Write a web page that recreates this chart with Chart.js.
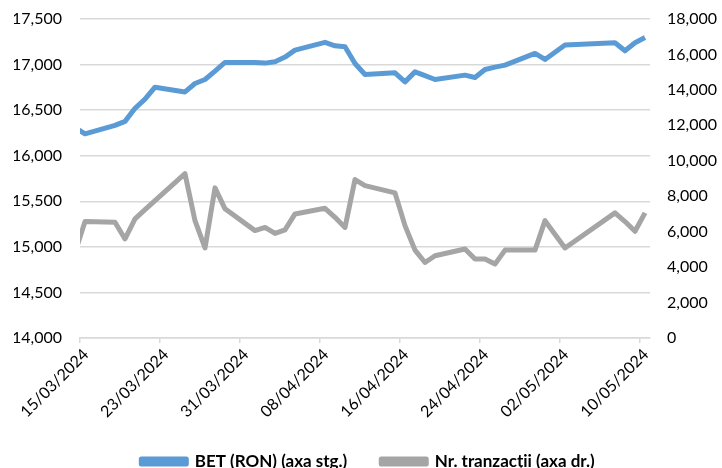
<!DOCTYPE html>
<html>
<head>
<meta charset="utf-8">
<script src="https://cdn.jsdelivr.net/npm/chart.js@4.4.1/dist/chart.umd.min.js"></script>
<style>
  html, body { margin: 0; padding: 0; background: #fff; }
  #wrap { width: 722px; height: 468px; }
</style>
</head>
<body>
<div id="wrap"><canvas id="chart_bet" width="722" height="468"></canvas></div>
<script>
// trading days (the first one sits just left of the visible axis start)
var dates = ['14/03/2024','15/03/2024','18/03/2024','19/03/2024','20/03/2024','21/03/2024','22/03/2024',
  '25/03/2024','26/03/2024','27/03/2024','28/03/2024','29/03/2024',
  '01/04/2024','02/04/2024','03/04/2024','04/04/2024','05/04/2024',
  '08/04/2024','09/04/2024','10/04/2024','11/04/2024','12/04/2024',
  '15/04/2024','16/04/2024','17/04/2024','18/04/2024','19/04/2024',
  '22/04/2024','23/04/2024','24/04/2024','25/04/2024','26/04/2024',
  '29/04/2024','30/04/2024','02/05/2024',
  '07/05/2024','08/05/2024','09/05/2024','10/05/2024'];

var betValues = [16307,16240,16333,16377,16520,16620,16752,
  16700,16792,16836,16928,17023,
  17023,17016,17032,17082,17159,
  17244,17206,17195,17012,16891,
  16909,16810,16920,16878,16836,
  16884,16858,16946,16972,16994,
  17122,17056,17214,
  17239,17151,17239,17296];

var tradeValues = [4810,6570,6530,5590,6720,7240,7750,
  9270,6620,5080,8470,7290,
  6060,6240,5900,6100,7000,
  7320,6810,6240,8940,8600,
  8190,6340,4960,4260,4640,
  5020,4460,4460,4170,4960,
  4960,6620,5080,
  7060,6570,6020,7060];

var tickLabels = ['15/03/2024','23/03/2024','31/03/2024','08/04/2024','16/04/2024','24/04/2024','02/05/2024','10/05/2024'];

var seriesNames = ['BET (RON) (axa stg.)', 'Nr. tranzacții (axa dr.)'];

var startDay = Date.UTC(2024, 2, 15);
function dayOf(s) {
  var p = s.split('/');
  return (Date.UTC(+p[2], +p[1] - 1, +p[0]) - startDay) / 86400000;
}
// each day occupies one unit, the point sits in the middle of it
function toPoints(values) {
  return values.map(function (v, i) { return { x: dayOf(dates[i]) + 0.5, y: v }; });
}

var fontFamily = "Lato, 'Open Sans', sans-serif";
var gridColor = '#d9d9d9';
var textColor = '#000';

var ctx = document.getElementById('chart_bet').getContext('2d');
new Chart(ctx, {
  type: 'line',
  data: {
    datasets: [
      {
        label: seriesNames[0],
        data: toPoints(betValues),
        yAxisID: 'yLeft',
        borderColor: '#5b9bd5',
        backgroundColor: '#5b9bd5',
        borderWidth: 5,
        borderJoinStyle: 'round',
        pointRadius: 0,
        tension: 0
      },
      {
        label: seriesNames[1],
        data: toPoints(tradeValues),
        yAxisID: 'yRight',
        borderColor: '#a5a5a5',
        backgroundColor: '#a5a5a5',
        borderWidth: 5,
        borderJoinStyle: 'round',
        pointRadius: 0,
        tension: 0
      }
    ]
  },
  options: {
    responsive: false,
    animation: false,
    layout: { padding: { top: 19, bottom: -12, left: 14, right: 0 } },
    plugins: {
      tooltip: { enabled: false },
      legend: {
        position: 'bottom',
        labels: {
          boxWidth: 45,
          boxHeight: 5,
          padding: 34,
          color: textColor,
          font: { family: fontFamily, size: 17, weight: 'bold' }
        }
      }
    },
    scales: {
      x: {
        type: 'linear',
        min: 0,
        max: dayOf(dates[dates.length - 1]) + 1,
        afterBuildTicks: function (scale) {
          scale.ticks = tickLabels.map(function (l) { return { value: dayOf(l) }; });
        },
        afterFit: function (scale) { scale.height = 81; },
        grid: { drawOnChartArea: false, color: gridColor, tickLength: 5, lineWidth: 1.5 },
        border: { display: true, color: gridColor, width: 1.5 },
        ticks: {
          minRotation: 45,
          maxRotation: 45,
          autoSkip: false,
          labelOffset: 6,
          padding: 2,
          color: textColor,
          font: { family: fontFamily, size: 16 },
          callback: function (value, i) { return tickLabels[i]; }
        }
      },
      yLeft: {
        position: 'left',
        min: 14000,
        max: 17500,
        afterFit: function (scale) { scale.width = 66; },
        // invisible ticks keep the labels away from the plot without padding the top
        grid: { color: gridColor, lineWidth: 1.5, drawTicks: true, tickLength: 18, tickColor: 'rgba(0,0,0,0)' },
        border: { display: false },
        ticks: {
          stepSize: 500,
          padding: 0,
          color: textColor,
          font: { family: fontFamily, size: 16 },
          callback: function (v) { return v.toLocaleString('en-US'); }
        }
      },
      yRight: {
        position: 'right',
        min: 0,
        max: 18000,
        afterFit: function (scale) { scale.width = 72; },
        grid: { drawOnChartArea: false, drawTicks: true, tickLength: 17, tickColor: 'rgba(0,0,0,0)' },
        border: { display: false },
        ticks: {
          stepSize: 2000,
          padding: 0,
          color: textColor,
          font: { family: fontFamily, size: 16 },
          callback: function (v) { return v.toLocaleString('en-US'); }
        }
      }
    }
  }
});
</script>
</body>
</html>
